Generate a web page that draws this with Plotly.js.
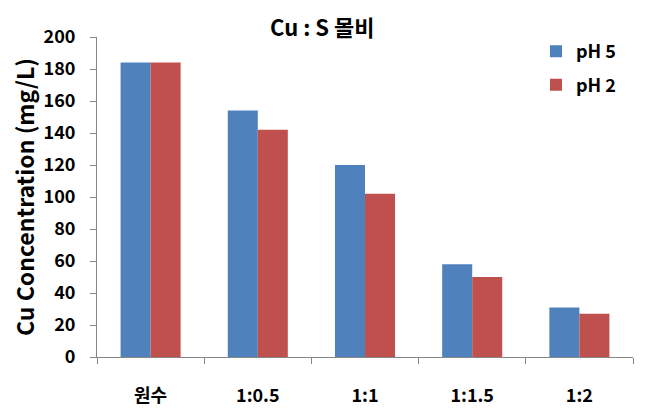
<!DOCTYPE html>
<html>
<head>
<meta charset="utf-8">
<script src="https://cdn.plot.ly/plotly-3.0.1.min.js"></script>
<style>html,body{margin:0;padding:0;background:#fff;}#chart{width:647px;height:413px;}</style>
</head>
<body>
<div id="chart"></div>
<script>
const categories = ["원수", "1:0.5", "1:1", "1:1.5", "1:2"];
const ph5 = [184, 154, 120, 58, 31];
const ph2 = [184, 142, 102, 50, 27];
const yTicks = [0, 20, 40, 60, 80, 100, 120, 140, 160, 180, 200];
const chartTitle = "Cu : S 몰비";

const FONT = "'Noto Sans CJK KR', 'Noto Sans', sans-serif";

const traces = [
  {type: "bar", name: "pH 5", x: categories, y: ph5, marker: {color: "#4F81BD"}, legendgroup: "a"},
  {type: "bar", name: "pH 2", x: categories, y: ph2, marker: {color: "#C0504D"}, legendgroup: "b"}
];

const layout = {
  width: 647, height: 413,
  margin: {l: 97, r: 14, t: 37, b: 56},
  paper_bgcolor: "#fff", plot_bgcolor: "#fff",
  font: {family: FONT, color: "#1a1a1a", size: 18, weight: "bold"},
  annotations: [{
    text: chartTitle, xref: "paper", yref: "paper", x: 0.42, y: 1.034,
    xanchor: "center", yanchor: "middle", showarrow: false,
    font: {family: FONT, size: 22, color: "#000", weight: "bold"}
  }],
  barmode: "group", bargap: 0.44, bargroupgap: 0,
  showlegend: true,
  legend: {x: 0.819, y: 1.012, xanchor: "left", yanchor: "top",
           font: {family: FONT, size: 18, color: "#000", weight: "bold"},
           traceorder: "grouped", tracegroupgap: 7, bgcolor: "rgba(0,0,0,0)"},
  xaxis: {
    showline: true, linecolor: "#868686", linewidth: 1,
    ticks: "outside", ticklen: 6, tickcolor: "#868686", tickson: "boundaries",
    tickfont: {family: FONT, size: 18, color: "#000", weight: "bold"},
    ticklabelstandoff: 22,
    showgrid: false, zeroline: false
  },
  yaxis: {
    range: [0, 200], tickvals: yTicks, ticktext: yTicks.map(String),
    showline: true, linecolor: "#868686", linewidth: 1,
    ticks: "outside", ticklen: 6, tickcolor: "#868686",
    tickfont: {family: FONT, size: 18, color: "#000", weight: "bold"},
    ticklabelstandoff: 11,
    showgrid: false, zeroline: false,
    title: {text: "Cu Concentration (mg/L)", standoff: 2,
            font: {family: FONT, size: 23, color: "#000", weight: "bold"}}
  }
};

Plotly.newPlot("chart", traces, layout, {displayModeBar: false, staticPlot: true});
</script>
</body>
</html>
